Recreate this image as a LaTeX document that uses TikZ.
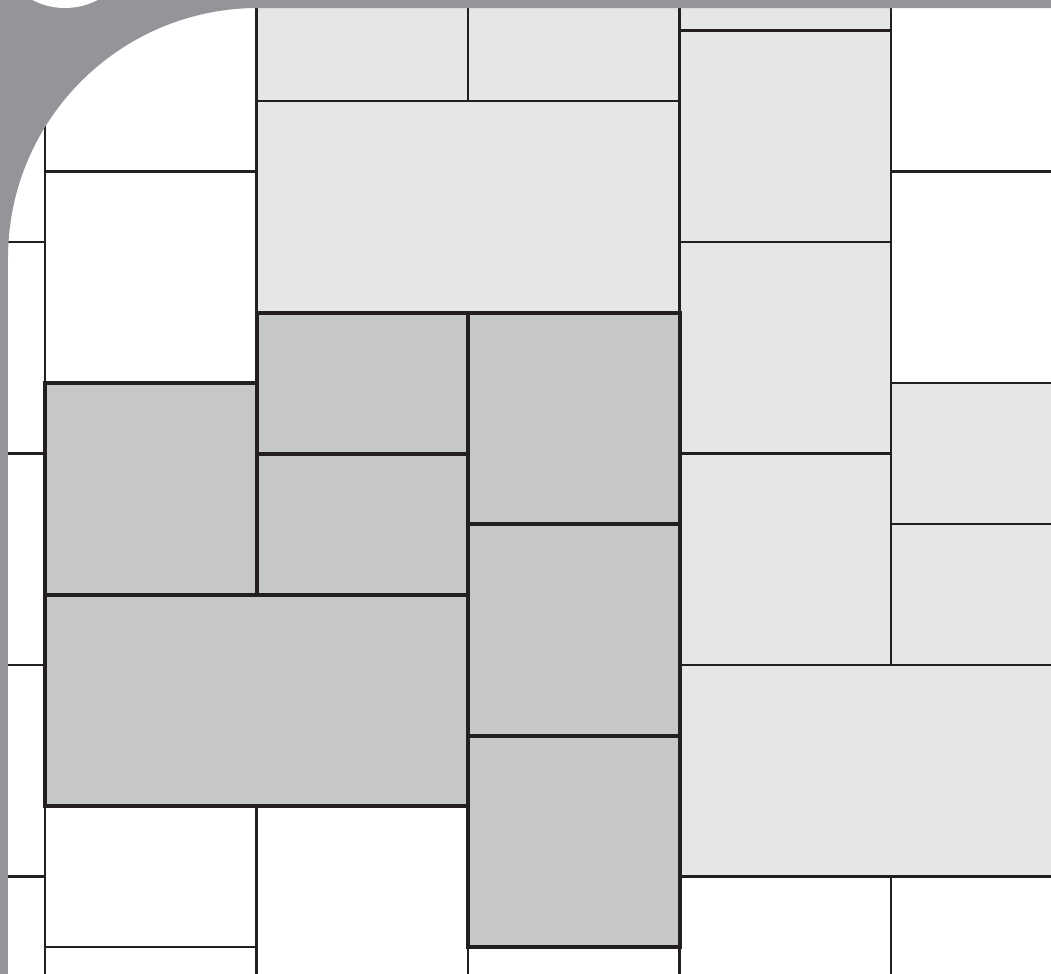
\documentclass[tikz,border=0pt]{standalone}
\usepackage{xcolor}
\usepackage{tikz}

\definecolor{ink}{HTML}{231F20}
\definecolor{paleTile}{HTML}{E5E6E8}
\definecolor{greyTile}{HTML}{C6C7C9}
\definecolor{frameGrey}{HTML}{939598}

\begin{document}
\begin{tikzpicture}[
  x=35.25pt, y=-35.25pt,
  tile/.style ={draw=ink, line width=1.45pt},
  open/.style ={tile},
  pale/.style ={tile, fill=paleTile},
  shade/.style={tile, fill=greyTile, line width=2pt},
  frame/.style={fill=frameGrey}
]
    % picture window (grid unit = one third of a square slab)
    \useasboundingbox (-0.6383,-0.4326) rectangle (14.2695,13.369);
    \clip (-0.6383,-0.4326) rectangle (14.2695,13.369);

    % open (white) slabs
    \foreach \a/\b/\c/\d in {-3/0/0/3, -3/3/0/6, -3/6/0/9, -3/9/0/12, -3/12/0/15,
                             0/-1/3/2, 0/2/3/5, 0/11/3/13, 0/13/3/16,
                             3/11/6/14, 6/13/9/16, 9/12/12/15, 12/12/15/15,
                             12/-1/15/2, 12/2/15/5}
      \draw[open] (\a,\b) rectangle (\c,\d);

    % pale slabs
    \foreach \a/\b/\c/\d in {3/-2/6/1, 6/-2/9/1, 3/1/9/4,
                             9/-3/12/0, 9/0/12/3, 9/3/12/6, 9/6/12/9,
                             12/5/15/7, 12/7/15/9, 9/9/15/12}
      \draw[pale] (\a,\b) rectangle (\c,\d);

    % darker slabs of the highlighted pattern
    \foreach \a/\b/\c/\d in {3/4/6/6, 3/6/6/8, 6/4/9/7, 6/7/9/10, 6/10/9/13,
                             0/5/3/8, 0/8/6/11}
      \draw[shade] (\a,\b) rectangle (\c,\d);

    % page frame with rounded inner corner and tab circle
    \begin{scope}[shift={(-0.6383,-0.4326)}, x=0.5pt, y=-0.5pt]
      \fill[frame, even odd rule] (-20,-20) rectangle (1100,1000)
        [rounded corners=125pt] (8,2000) -- (8,8) -- (2000,8) -- (2000,2000) -- cycle;
      \fill[white] (65,-62) circle (35pt);
    \end{scope}
\end{tikzpicture}
\end{document}
